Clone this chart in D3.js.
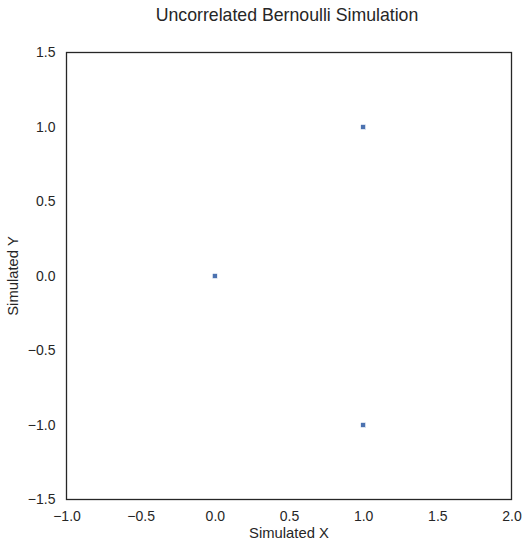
<!DOCTYPE html>
<html>
<head>
<meta charset="utf-8">
<script src="https://cdn.jsdelivr.net/npm/d3@7"></script>
<style>
  body { margin: 0; background: #fff; }
  text { font-family: "Liberation Sans", Arial, sans-serif; fill: #262626; }
</style>
</head>
<body>
<div id="chart"></div>
<script>

// simulated points (X, Y)
var simX = [0, 1, 1];
var simY = [0, 1, -1];

var xTicks = [-1.0, -0.5, 0.0, 0.5, 1.0, 1.5, 2.0];
var yTicks = [-1.5, -1.0, -0.5, 0.0, 0.5, 1.0, 1.5];

var margin = { top: 52.5, right: 17.5, bottom: 49.5, left: 66.5 };
var width = 529 - margin.left - margin.right,
    height = 549 - margin.top - margin.bottom;

var svg = d3.select("#chart").append("svg")
        .attr("width", 529)
        .attr("height", 549);

var g = svg.append("g")
        .attr("transform", "translate(" + margin.left + "," + margin.top + ")");

var x = d3.scaleLinear().domain([-1, 2]).range([0, width]);
var y = d3.scaleLinear().domain([-1.5, 1.5]).range([height, 0]);

// axes, no tick marks (seaborn white style)
var xAxis = g.append("g")
    .attr("transform", "translate(0," + height + ")")
    .call(d3.axisBottom(x).tickValues(xTicks).tickSize(0).tickPadding(11.5).tickFormat(d3.format(".1f")));
var yAxis = g.append("g")
    .call(d3.axisLeft(y).tickValues(yTicks).tickSize(0).tickPadding(11).tickFormat(d3.format(".1f")));

[xAxis, yAxis].forEach(function (a) {
    a.select(".domain").remove();
    a.selectAll("text")
        .attr("fill", "#262626")
        .style("font-size", "14px")
        .style("font-family", "'Liberation Sans', Arial, sans-serif");
});

// frame
g.append("rect")
    .attr("width", width)
    .attr("height", height)
    .attr("fill", "none")
    .attr("stroke", "#262626")
    .attr("stroke-width", 1.3);

// points
g.selectAll(".pt")
    .data(simX.map(function (d, i) { return { x: d, y: simY[i] }; }))
  .enter().append("rect")
    .attr("class", "pt")
    .attr("x", function (d) { return x(d.x) - 2.5; })
    .attr("y", function (d) { return y(d.y) - 2.5; })
    .attr("width", 5)
    .attr("height", 5)
    .attr("fill", "#4c72b0")
    .attr("stroke", "#fff")
    .attr("stroke-width", 0.6);

// labels
svg.append("text")
    .attr("x", margin.left + width / 2 - 2)
    .attr("y", 20.5)
    .attr("text-anchor", "middle")
    .style("font-size", "17.7px")
    .text("Uncorrelated Bernoulli Simulation");

svg.append("text")
    .attr("x", margin.left + width / 2)
    .attr("y", 537.5)
    .attr("text-anchor", "middle")
    .style("font-size", "14.8px")
    .text("Simulated X");

svg.append("text")
    .attr("transform", "translate(18.3," + (margin.top + height / 2) + ") rotate(-90)")
    .attr("text-anchor", "middle")
    .style("font-size", "14.8px")
    .text("Simulated Y");

</script>
</body>
</html>
